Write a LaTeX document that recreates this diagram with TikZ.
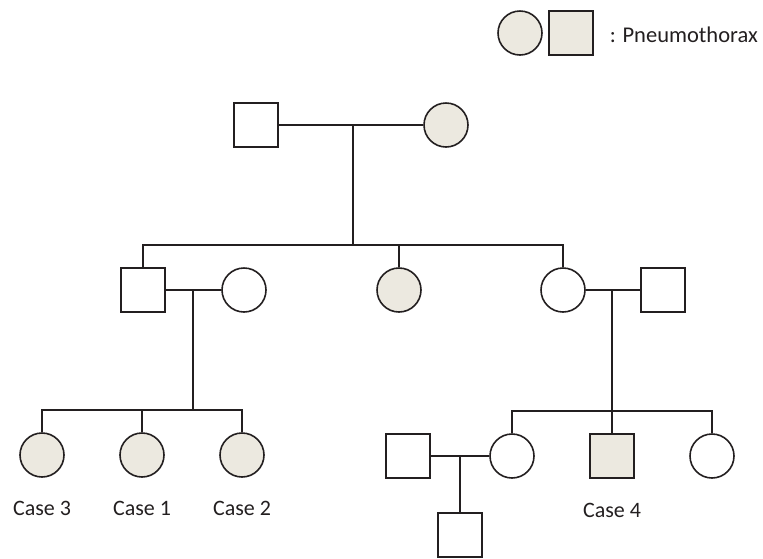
\documentclass[tikz,border=0pt]{standalone}
\usepackage{fontspec}
\setmainfont{Carlito}
\definecolor{aff}{RGB}{236,233,224}
\definecolor{ln}{RGB}{35,31,32}
\begin{document}
\begin{tikzpicture}[x=1pt,y=-1pt,
  line width=1.6pt,
  fem/.style={circle,draw=ln,fill=white,minimum size=44pt,inner sep=0pt},
  mal/.style={rectangle,draw=ln,fill=white,minimum size=44pt,inner sep=0pt},
  affected/.style={fill=aff},
  lbl/.style={font=\fontsize{22}{24}\selectfont,text=ln,inner sep=0pt},
  rel/.style={draw=ln,line width=1.6pt}]
\useasboundingbox (0,0) rectangle (763,558);
% legend
\node[fem,affected] (lc) at (520,33) {};
\node[mal,affected] (ls) at (571,33) {};
\node[lbl,anchor=west,font=\fontsize{22.5}{24}\selectfont] (lt) at (609,35) {: Pneumothorax};
% generation I
\node[mal] (g1m) at (256,125) {};
\node[fem,affected] (g1f) at (446,125) {};
\coordinate (m1) at (353,125);
\coordinate (s1) at (353,245);
\draw[rel] (g1m) -- (g1f);
\draw[rel] (m1) -- (s1);
% generation II
\node[mal] (g2a) at (143,290) {};
\node[fem] (g2aw) at (244,290) {};
\node[fem,affected] (g2b) at (399,290) {};
\node[fem] (g2c) at (563,290) {};
\node[mal] (g2ch) at (663,290) {};
\draw[rel] (g2a.north) -- (143,245) -- (563,245) -- (g2c.north);
\draw[rel] (g2b.north) -- (399,245);
\draw[rel] (g2a) -- (g2aw);
\draw[rel] (g2c) -- (g2ch);
\coordinate (m2) at (193,290);
\coordinate (s2) at (193,410);
\coordinate (m3) at (612,290);
\coordinate (s3) at (612,410);
\draw[rel] (m2) -- (s2);
\draw[rel] (m3) -- (s3);
% generation III left
\node[fem,affected] (c3) at (42,455) {};
\node[fem,affected] (c1) at (142,455) {};
\node[fem,affected] (c2) at (242,455) {};
\draw[rel] (c3.north) -- (42,410) -- (242,410) -- (c2.north);
\draw[rel] (c1.north) -- (142,410);
\node[lbl] (t3) at (42,508) {Case 3};
\node[lbl] (t1) at (142,508) {Case 1};
\node[lbl] (t2) at (242,508) {Case 2};
% generation III right
\node[fem] (d1) at (512,456) {};
\node[mal,affected] (d2) at (612,456) {};
\node[fem] (d3) at (712,456) {};
\draw[rel] (d1.north) -- (512,411) -- (712,411) -- (d3.north);
\draw[rel] (s3) -- (d2.north);
\node[lbl] (t4) at (612,510) {Case 4};
\node[mal] (sp) at (408,456) {};
\draw[rel] (sp) -- (d1);
\node[mal] (gc) at (460,535) {};
\draw[rel] (460,456) -- (gc.north);
\end{tikzpicture}
\end{document}
